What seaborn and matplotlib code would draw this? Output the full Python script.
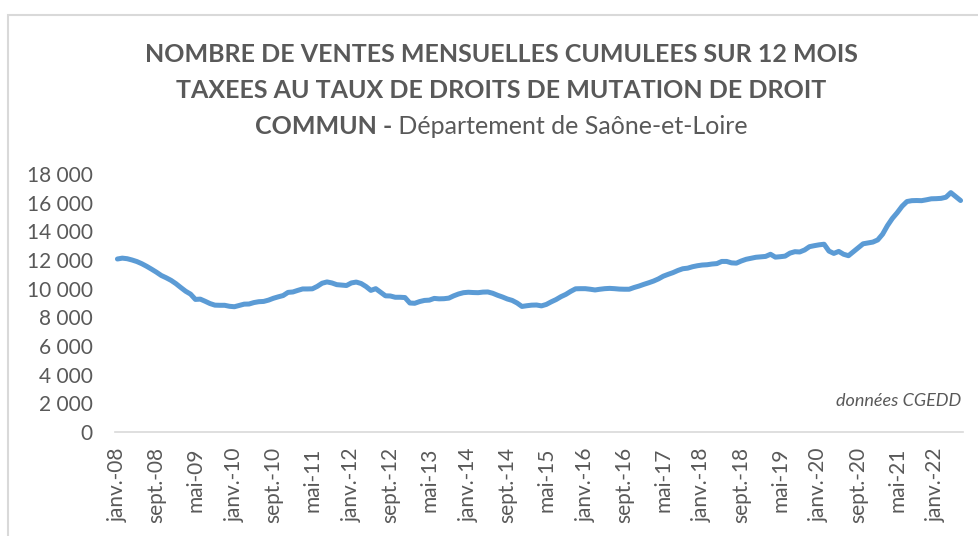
import matplotlib
matplotlib.use("Agg")
import matplotlib.pyplot as plt
import seaborn as sns
from matplotlib.patches import Rectangle
from matplotlib.ticker import FuncFormatter

# ventes cumulées sur 12 mois, une valeur par mois (janv.-08 -> juin-22)
ventes_2008 = [12070, 12130, 12090, 12000, 11890, 11740, 11560, 11360, 11150, 10920, 10760, 10580]
ventes_2009 = [10350, 10080, 9820, 9620, 9250, 9270, 9120, 8960, 8850, 8840, 8840, 8770]
ventes_2010 = [8740, 8830, 8920, 8930, 9030, 9090, 9110, 9200, 9330, 9430, 9520, 9740]
ventes_2011 = [9770, 9880, 9980, 9980, 9990, 10160, 10380, 10470, 10400, 10280, 10250, 10220]
ventes_2012 = [10400, 10460, 10360, 10150, 9880, 10000, 9750, 9500, 9490, 9400, 9400, 9380]
ventes_2013 = [9000, 8980, 9100, 9180, 9200, 9320, 9290, 9300, 9340, 9500, 9630, 9720]
ventes_2014 = [9750, 9730, 9720, 9760, 9770, 9680, 9540, 9420, 9280, 9180, 9000, 8760]
ventes_2015 = [8810, 8850, 8860, 8800, 8900, 9080, 9240, 9440, 9600, 9810, 9990, 10000]
ventes_2016 = [10000, 9960, 9910, 9960, 10000, 10020, 10000, 9970, 9960, 9960, 10080, 10180]
ventes_2017 = [10300, 10410, 10530, 10680, 10870, 11000, 11120, 11270, 11390, 11430, 11530, 11600]
ventes_2018 = [11650, 11670, 11720, 11750, 11900, 11900, 11800, 11780, 11930, 12050, 12120, 12190]
ventes_2019 = [12220, 12250, 12400, 12200, 12230, 12270, 12480, 12580, 12560, 12700, 12930, 13000]
ventes_2020 = [13060, 13100, 12620, 12460, 12600, 12400, 12300, 12580, 12850, 13130, 13190, 13250]
ventes_2021 = [13400, 13800, 14400, 14900, 15300, 15750, 16080, 16140, 16150, 16140, 16200, 16270]
ventes_2022 = [16280, 16300, 16380, 16700, 16420, 16150]

ventes = (ventes_2008 + ventes_2009 + ventes_2010 + ventes_2011 + ventes_2012
          + ventes_2013 + ventes_2014 + ventes_2015 + ventes_2016 + ventes_2017
          + ventes_2018 + ventes_2019 + ventes_2020 + ventes_2021 + ventes_2022)
mois = list(range(len(ventes)))

tick_labels = ["janv.-08", "sept.-08", "mai-09", "janv.-10", "sept.-10", "mai-11",
               "janv.-12", "sept.-12", "mai-13", "janv.-14", "sept.-14", "mai-15",
               "janv.-16", "sept.-16", "mai-17", "janv.-18", "sept.-18", "mai-19",
               "janv.-20", "sept.-20", "mai-21", "janv.-22"]
tick_positions = list(range(0, len(ventes), 8))

sns.set_theme(style="white")
plt.rcParams['font.family'] = ['Lato', 'DejaVu Sans']

gris = "#595959"
W, H = 979, 536
fig = plt.figure(figsize=(W / 100, H / 100), dpi=100)
ax = fig.add_axes([115 / W, (H - 432) / H, (963 - 115) / W, (432 - 174) / H])

sns.lineplot(x=mois, y=ventes, ax=ax, color="#5B9BD5", linewidth=3.6,
             solid_capstyle="round", solid_joinstyle="round")

ax.set_xlim(-0.5, len(ventes) - 0.5)
ax.set_ylim(0, 18000)
ax.set_yticks(range(0, 18001, 2000))
ax.yaxis.set_major_formatter(FuncFormatter(lambda v, p: f"{int(v):,}".replace(",", " ")))
ax.set_xticks(tick_positions)
ax.set_xticklabels(tick_labels, rotation=90)
ax.tick_params(axis="both", length=0, labelsize=15, colors=gris)
ax.tick_params(axis="y", pad=16)
ax.tick_params(axis="x", pad=11)

for s in ["top", "right", "left"]:
    ax.spines[s].set_visible(False)
ax.spines["bottom"].set_color("#D9D9D9")
ax.spines["bottom"].set_linewidth(1.2)

# cadre du graphique (coupé à droite et en bas)
fig.patches.append(Rectangle((8 / W, -0.1), 1.5, (H - 15) / H + 0.1,
                             transform=fig.transFigure, fill=False,
                             edgecolor="#D9D9D9", linewidth=1.5))

# titre
cx = 501
fig.text(cx / W, 1 - 55 / H, "NOMBRE DE VENTES MENSUELLES CUMULEES SUR 12 MOIS",
         ha="center", va="center", fontsize=18, fontweight="bold", color=gris)
fig.text(cx / W, 1 - 90 / H, "TAXEES AU TAUX DE DROITS DE MUTATION DE DROIT",
         ha="center", va="center", fontsize=18, fontweight="bold", color=gris)
t1 = fig.text(0, 1 - 126 / H, "COMMUN -", ha="left", va="center",
              fontsize=18, fontweight="bold", color=gris)
t2 = fig.text(0, 1 - 126 / H, " Département de Saône-et-Loire", ha="left", va="center",
              fontsize=18, color=gris)
r = fig.canvas.get_renderer()
w1 = t1.get_window_extent(r).width
w2 = t2.get_window_extent(r).width
x0 = cx - (w1 + w2) / 2
t1.set_x(x0 / W)
t2.set_x((x0 + w1) / W)

fig.text(961 / W, (H - 401) / H, "données CGEDD", ha="right", va="center",
         fontsize=13, style="italic", color=gris)

fig.savefig("out.png", dpi=100)
